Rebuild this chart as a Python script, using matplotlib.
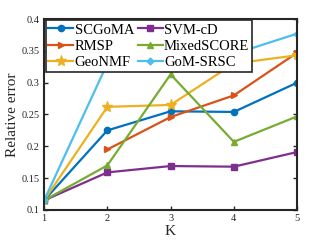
import numpy as np
import matplotlib
matplotlib.use("Agg")
import matplotlib.pyplot as plt

K = [1, 2, 3, 4, 5]
scgoma = [0.115, 0.225, 0.255, 0.254, 0.300]
rmsp = [np.nan, 0.195, 0.246, 0.280, 0.347]
geonmf = [0.115, 0.262, 0.265, 0.330, 0.343]
svmcd = [0.115, 0.159, 0.169, 0.168, 0.191]
mixedscore = [0.115, 0.170, 0.313, 0.207, 0.247]
gomsrsc = [0.115, 0.330, 0.370, 0.345, 0.377]

xticks = [1, 2, 3, 4, 5]
yticks = [0.1, 0.15, 0.2, 0.25, 0.3, 0.35, 0.4]
yticklabels = ["0.1", "0.15", "0.2", "0.25", "0.3", "0.35", "0.4"]

plt.rcParams['font.family'] = ['Liberation Serif', 'DejaVu Serif']

fig = plt.figure(figsize=(3.29, 2.47), dpi=100)
ax = fig.add_axes([0.134, 0.150, 0.769, 0.773])

series = [
    ("SCGoMA", scgoma, "#0072BD", "o", 4.5),
    ("RMSP", rmsp, "#D95319", ">", 5),
    ("GeoNMF", geonmf, "#EDB120", "*", 8),
    ("SVM-cD", svmcd, "#7E2F8E", "s", 4.5),
    ("MixedSCORE", mixedscore, "#77AC30", "^", 5),
    ("GoM-SRSC", gomsrsc, "#4DBEEE", "D", 3.5),
]
for name, vals, c, m, ms in series:
    ax.plot(K, vals, color=c, marker=m, markersize=ms, linewidth=1.6, label=name)

ax.set_xlim(1, 5)
ax.set_ylim(0.1, 0.4)
ax.set_xticks(xticks)
ax.set_yticks(yticks)
ax.set_yticklabels(yticklabels)
ax.tick_params(direction='in', length=3, width=1, top=True, right=True,
               labelsize=7.5, colors='#262626', pad=3)
for s in ax.spines.values():
    s.set_linewidth(1.5)
    s.set_color('#262626')
ax.set_xlabel("K", fontsize=11, color='#262626', labelpad=1)
ax.set_ylabel("Relative error", fontsize=11, color='#262626', labelpad=2)

leg = ax.legend(ncol=2, loc='upper left', fontsize=10.5, handlelength=1.7,
                handletextpad=0.1, columnspacing=0.25, labelspacing=0.22,
                borderpad=0.2, borderaxespad=0.1, frameon=True, fancybox=False,
                framealpha=1)
leg.get_frame().set_edgecolor('#262626')
leg.get_frame().set_linewidth(1.2)

fig.savefig("out.png", dpi=100)
